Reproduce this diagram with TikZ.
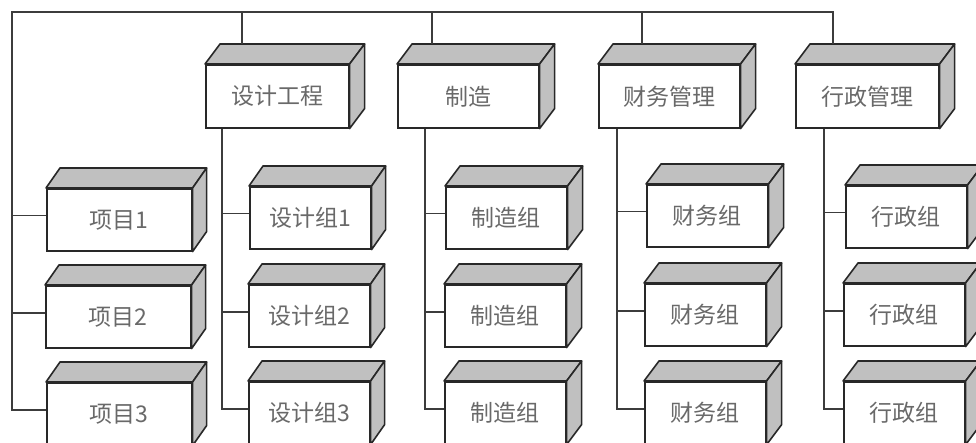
\documentclass[tikz,border=0pt]{standalone}
\usepackage{fontspec}
\newfontfamily\cjk{Noto Sans CJK SC}
\usetikzlibrary{calc}
\definecolor{facegray}{RGB}{192,192,192}
\definecolor{edgedark}{RGB}{40,40,40}
\definecolor{linedark}{RGB}{60,60,60}
\definecolor{txtgray}{RGB}{105,105,105}
\tikzset{
  cubefront/.style={draw=edgedark, line width=1.6pt, fill=white, anchor=north west,
    inner sep=0pt, font=\cjk\fontsize{23}{23}\selectfont, text=txtgray},
  cubeside/.style={draw=edgedark, line width=1.6pt, fill=facegray, line join=round},
  conn/.style={draw=linedark, line width=1.4pt}
}
% name, x, y, width, height, depth-x, text
\newcommand\cubebox[7]{%
  \node[cubefront, minimum width=#4pt, minimum height=#5pt] (#1) at (#2,#3) {#7};
  \draw[cubeside] (#1.north west) -- ++(#6,-20) -- ($(#1.north east)+(#6,-20)$) -- (#1.north east) -- cycle;
  \draw[cubeside] (#1.north east) -- ++(#6,-20) -- ($(#1.south east)+(#6,-20)$) -- (#1.south east) -- cycle;
}
\begin{document}
\begin{tikzpicture}[x=1pt,y=-1pt]
\useasboundingbox[fill=white] (0,0) rectangle (976,443);
% top row
\cubebox{d0}{205}{64}{143}{63}{15}{设计工程}
\cubebox{d1}{397}{64}{141}{63}{15}{制造}
\cubebox{d2}{598}{64}{141}{63}{15}{财务管理}
\cubebox{d3}{795}{64}{143}{63}{15}{行政管理}
% column A
\cubebox{a1}{46}{188}{145}{62}{14}{项目1}
\cubebox{a2}{45}{285}{145}{62}{14}{项目2}
\cubebox{a3}{46}{382}{145}{62}{14}{项目3}
% column B
\cubebox{b1}{249}{186}{121}{62}{14}{设计组1}
\cubebox{b2}{248}{284}{121}{62}{14}{设计组2}
\cubebox{b3}{248}{381}{121}{62}{14}{设计组3}
% column C
\cubebox{c1}{445}{186}{121}{62}{15}{制造组}
\cubebox{c2}{444}{284}{121}{62}{15}{制造组}
\cubebox{c3}{444}{381}{121}{62}{15}{制造组}
% column D
\cubebox{e1}{646}{184}{121}{62}{15}{财务组}
\cubebox{e2}{644}{283}{121}{62}{15}{财务组}
\cubebox{e3}{644}{381}{121}{62}{15}{财务组}
% column E
\cubebox{f1}{845}{185}{121}{62}{15}{行政组}
\cubebox{f2}{843}{283}{121}{62}{15}{行政组}
\cubebox{f3}{843}{381}{121}{62}{15}{行政组}
% helper coordinates
\coordinate (corner) at (12,12);
\coordinate (t0) at ($(d0.north west)+(37,-20)$);
\coordinate (t1) at ($(d1.north west)+(35,-20)$);
\coordinate (t2) at ($(d2.north west)+(44,-20)$);
\coordinate (t3) at ($(d3.north west)+(38,-20)$);
\coordinate (v0) at ($(d0.south west)+(17,0)$);
\coordinate (v1) at ($(d1.south west)+(28,0)$);
\coordinate (v2) at ($(d2.south west)+(19,0)$);
\coordinate (v3) at ($(d3.south west)+(29,0)$);
\foreach \n in {a1,a2,a3,b1,b2,b3,c1,c2,c3,e1,e2,e3,f1,f2,f3}{
  \coordinate (\n s) at ([yshift=4pt]\n.west);
}
% top bus and left trunk
\draw[conn] (a3s) -| (corner) -| (t3);
\foreach \t in {t0,t1,t2}{ \draw[conn] (corner -| \t) -- (\t); }
\draw[conn] (corner |- a1s) -- (a1s);
\draw[conn] (corner |- a2s) -- (a2s);
% department trunks
\draw[conn] (v0) |- (b3s);
\draw[conn] (v0 |- b1s) -- (b1s);
\draw[conn] (v0 |- b2s) -- (b2s);
\draw[conn] (v1) |- (c3s);
\draw[conn] (v1 |- c1s) -- (c1s);
\draw[conn] (v1 |- c2s) -- (c2s);
\draw[conn] (v2) |- (e3s);
\draw[conn] (v2 |- e1s) -- (e1s);
\draw[conn] (v2 |- e2s) -- (e2s);
\draw[conn] (v3) |- (f3s);
\draw[conn] (v3 |- f1s) -- (f1s);
\draw[conn] (v3 |- f2s) -- (f2s);
\end{tikzpicture}
\end{document}
